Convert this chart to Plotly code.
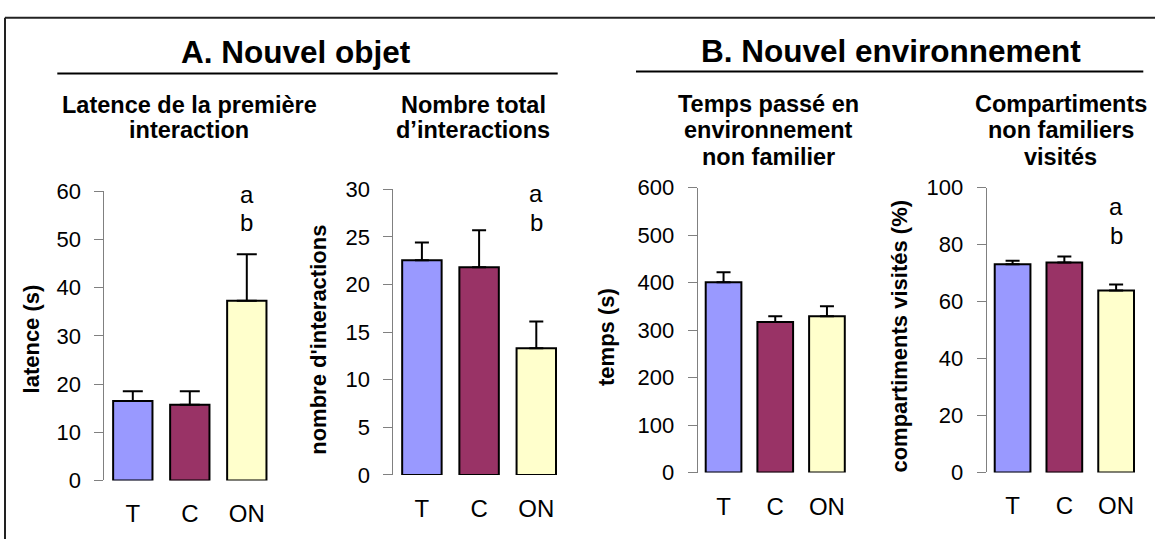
import plotly.graph_objects as go

# ---------------- data ----------------
categories = ["T", "C", "ON"]
bar_colors = ["#9999FF", "#993366", "#FFFFCC"]

latence_mean = [16.5, 15.7, 37.3]
latence_sem = [2.0, 2.8, 9.6]

interactions_mean = [22.55, 21.8, 13.3]
interactions_sem = [1.85, 3.9, 2.8]

temps_mean = [401, 317, 329]
temps_sem = [21, 12, 21]

compart_mean = [73.1, 73.7, 63.9]
compart_sem = [1.2, 2.1, 2.1]

y_ranges = [[0, 60], [0, 30], [0, 600], [0, 100]]
y_dticks = [10, 5, 100, 20]

titles_main = ["A. Nouvel objet", "B. Nouvel environnement"]
subtitles = [
    ["Latence de la première", "interaction"],
    ["Nombre total", "d’interactions"],
    ["Temps passé en", "environnement", "non familier"],
    ["Compartiments", "non familiers", "visités"],
]
y_titles = ["latence (s)", "nombre d'interactions", "temps (s)", "compartiments visités (%)"]
letters_a = ["a", "a", None, "a"]
letters_b = ["b", "b", None, "b"]
letter_y = [(59.4, 53.6), (29.5, 26.5), None, (93.3, 83.2)]

# ---------------- layout helpers ----------------
W, H = 1155, 552
FONT = "Arial, Liberation Sans, sans-serif"


def px(x):
    return x / W


def py(y):
    return 1 - y / H


# panel geometry in pixels: (x_left, x_right, y_bottom, y_top)
panels = [
    (104.3, 275.3, 490.7, 187.7),
    (393.3, 564.9, 484.9, 185.6),
    (697.7, 852.8, 482.4, 184.0),
    (986.7, 1142.0, 482.3, 184.0),
]
cap_widths = [10, 7, 7, 7]
means = [latence_mean, interactions_mean, temps_mean, compart_mean]
sems = [latence_sem, interactions_sem, temps_sem, compart_sem]

fig = go.Figure()
layout = dict(
    width=W, height=H, autosize=False,
    margin=dict(l=0, r=0, t=0, b=0),
    paper_bgcolor="white", plot_bgcolor="rgba(0,0,0,0)",
    showlegend=False,
    font=dict(family=FONT, color="black"),
)

annotations = []
shapes = []

for i, (xl, xr, yb, yt) in enumerate(panels):
    n = "" if i == 0 else str(i + 1)
    fig.add_trace(go.Bar(
        x=categories, y=means[i],
        marker=dict(color=bar_colors, line=dict(color="black", width=2)),
        width=0.69,
        error_y=dict(type="data", array=sems[i], arrayminus=[0, 0, 0],
                     symmetric=False, color="black", thickness=2,
                     width=cap_widths[i]),
        xaxis="x" + n, yaxis="y" + n,
        hoverinfo="skip",
    ))
    layout["xaxis" + n] = dict(
        domain=[px(xl), px(xr)], anchor="y" + n,
        type="category", categoryorder="array", categoryarray=categories,
        range=[-0.5, 2.5], showline=False, showgrid=False, zeroline=False,
        ticks="", tickfont=dict(size=24, family=FONT, color="black"),
        ticklabelstandoff=17, fixedrange=True,
    )
    layout["yaxis" + n] = dict(
        domain=[py(yb), py(yt)], anchor="x" + n,
        range=y_ranges[i], tick0=0, dtick=y_dticks[i],
        showline=True, linecolor="#808080", linewidth=1,
        ticks="outside", ticklen=9, tickcolor="#808080", tickwidth=1,
        showgrid=False, zeroline=False,
        tickfont=dict(size=22, family=FONT, color="black"),
        ticklabelstandoff=9, fixedrange=True,
    )
    # a / b letters
    if letters_a[i]:
        ya, yb_ = letter_y[i]
        for txt, yy in ((letters_a[i], ya), (letters_b[i], yb_)):
            annotations.append(dict(
                x="ON", y=yy, xref="x" + n, yref="y" + n, text=txt,
                showarrow=False, xanchor="center", yanchor="middle",
                font=dict(size=24, family=FONT, color="black"),
            ))

# subtitles (one annotation per line)
sub_x = [189, 473.3, 768.8, 1060.8]
sub_lines_y = [[97, 124], [97, 124], [96.7, 124, 151.7], [96.7, 124, 151.7]]
for i, lines in enumerate(subtitles):
    for txt, yy in zip(lines, sub_lines_y[i]):
        annotations.append(dict(
            x=px(sub_x[i]), y=py(yy), xref="paper", yref="paper",
            text="<b>" + txt + "</b>", showarrow=False,
            xanchor="center", yanchor="middle",
            font=dict(size=23.5, family=FONT, color="black"),
        ))

# y-axis titles
ytitle_pos = [(31, 343), (319, 343.3), (606.7, 340.7), (900, 340)]
for txt, (xx, yy) in zip(y_titles, ytitle_pos):
    annotations.append(dict(
        x=px(xx), y=py(yy), xref="paper", yref="paper",
        text="<b>" + txt + "</b>", showarrow=False, textangle=-90,
        xanchor="center", yanchor="middle",
        font=dict(size=22, family=FONT, color="black"),
    ))

# main titles
main_pos = [(295.9, 42), (890.5, 40.5)]
for txt, (xx, yy) in zip(titles_main, main_pos):
    annotations.append(dict(
        x=px(xx), y=py(yy), xref="paper", yref="paper",
        text="<b>" + txt + "</b>", showarrow=False,
        xanchor="center", yanchor="middle",
        font=dict(size=31.5, family=FONT, color="black"),
    ))

# underlines below main titles
for (x0, x1, yy) in [(57.3, 557.7, 64.3), (636, 1143.3, 62.3)]:
    shapes.append(dict(type="line", xref="paper", yref="paper",
                       x0=px(x0), x1=px(x1), y0=py(yy), y1=py(yy),
                       line=dict(color="black", width=2)))

# outer frame (top and left edges visible)
shapes.append(dict(type="line", xref="paper", yref="paper",
                   x0=px(5), x1=1.0, y0=py(6), y1=py(6),
                   line=dict(color="#222222", width=2)))
shapes.append(dict(type="line", xref="paper", yref="paper",
                   x0=px(5), x1=px(5), y0=py(6), y1=0.0,
                   line=dict(color="#222222", width=2)))

layout["annotations"] = annotations
layout["shapes"] = shapes
fig.update_layout(**layout)
fig.write_html(
    "out.html",
    config={"displayModeBar": False},
    post_script="document.body.style.margin='0';document.body.style.overflow='hidden';",
)
